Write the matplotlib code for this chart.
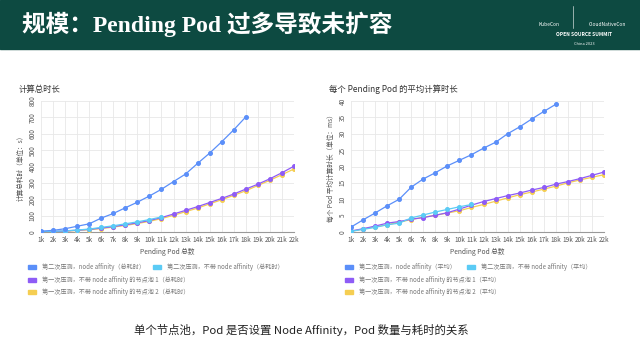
import matplotlib
matplotlib.use("Agg")
import matplotlib.pyplot as plt
from matplotlib.patches import Rectangle

plt.rcParams["font.family"] = ["Noto Sans CJK SC", "DejaVu Sans"]

TITLE = "规模：Pending Pod 过多导致未扩容"
CAPTION = "单个节点池，Pod 是否设置 Node Affinity，Pod 数量与耗时的关系"

categories = [f"{i}k" for i in range(1, 23)]

# total compute time (s)
total_affinity = [5, 10, 20, 35, 50, 85, 113, 148, 182, 220, 261, 308, 354, 419, 482, 551, 624, 703]
total_no_affinity = [2, 4, 7, 12, 18, 28, 38, 50, 62, 76, 92]
total_pool1 = [1, 3, 6, 11, 16, 24, 33, 44, 56, 70, 88, 110, 132, 155, 180, 205, 232, 262, 292, 325, 362, 402]
total_pool2 = [0, 2, 5, 9, 14, 21, 30, 40, 52, 65, 82, 102, 124, 146, 172, 197, 224, 252, 284, 316, 350, 385]

# average compute time per pod (ms)
avg_affinity = [1.5, 3.7, 5.8, 8.0, 10.0, 13.7, 16.2, 18.1, 20.2, 21.9, 23.6, 25.6, 27.4, 30.0, 32.1, 34.5, 36.8, 39.0]
avg_no_affinity = [0.2, 0.8, 1.4, 2.2, 2.7, 4.3, 5.2, 6.1, 6.9, 7.7, 8.4]
avg_pool1 = [0.3, 1.0, 1.8, 2.7, 3.2, 3.9, 4.4, 5.1, 5.9, 7.0, 8.2, 9.3, 10.2, 11.1, 11.9, 12.8, 13.6, 14.6, 15.4, 16.3, 17.3, 18.3]
avg_pool2 = [0.2, 0.9, 1.6, 2.2, 3.0, 3.8, 4.5, 5.1, 5.8, 6.5, 7.5, 8.4, 9.4, 10.4, 11.4, 12.2, 13.1, 14.0, 15.0, 15.9, 16.7, 17.5]

colors = ["#5b8ff9", "#5bcbf5", "#8e5cf6", "#f5ce52"]
W, H = 640, 360


def px_axes(fig, x0, y0, x1, y1):
    return fig.add_axes([x0 / W, 1 - y1 / H, (x1 - x0) / W, (y1 - y0) / H])


def draw_chart(fig, box, series, labels, ylim, ystep, title, ylabel, legend_x):
    x0, y0, x1, y1 = box
    ax = px_axes(fig, x0, y0, x1, y1)
    # draw lower series first so the affinity line stays on top
    for vals, color in reversed(list(zip(series, colors))):
        ax.plot(range(len(vals)), vals, color=color, lw=0.9, marker="o", ms=2.6, zorder=3)
    ax.set_xlim(0, len(categories) - 1)
    ax.set_ylim(*ylim)
    ax.set_xticks(range(len(categories)))
    ax.set_xticklabels(categories)
    ax.set_yticks(range(ylim[0], ylim[1] + 1, ystep))
    ax.tick_params(length=0, labelsize=4.6, colors="#555555", pad=3)
    for lab in ax.get_yticklabels():
        lab.set_rotation(90)
        lab.set_va("center")
    ax.grid(color="#e8e8e8", lw=0.6)
    for side in ("top", "right", "left"):
        ax.spines[side].set_visible(False)
    ax.spines["bottom"].set_color("#999999")
    ax.spines["bottom"].set_linewidth(0.8)
    ax.set_xlabel("Pending Pod 总数", fontsize=4.8, color="#555555", labelpad=3)
    ax.set_ylabel(ylabel, fontsize=4.8, color="#555555", labelpad=3)
    fig.text((x0 - 22) / W, 1 - 89 / H, title, fontsize=6, color="#333333",
             fontweight="medium", va="center")

    # legend, two columns on the first row
    rows = [(0, 0), (1, 0), (0, 1), (0, 2)]
    for (col, row), lab, color in zip(rows, labels, colors):
        px = legend_x[col]
        py = 267 + row * 12.5
        fig.patches.append(Rectangle((px / W, 1 - (py + 2) / H), 8 / W, 4 / H,
                                     transform=fig.transFigure, color=color))
        fig.text((px + 14) / W, 1 - py / H, lab, fontsize=4.4, color="#777777", va="center")
    return ax


fig = plt.figure(figsize=(6.4, 3.6), dpi=100)
fig.patch.set_facecolor("white")

# header band
fig.patches.append(Rectangle((0, 1 - 49 / H), 1, 49 / H, transform=fig.transFigure,
                             color="#0d4a41", zorder=0))
fig.text(22 / W, 1 - 24 / H, TITLE, fontsize=17, color="white", va="center",
         fontweight="bold", family=["Liberation Serif", "Noto Sans CJK SC"])
fig.text(549 / W, 1 - 25 / H, "KubeCon", fontsize=3.5, color="white", ha="center", va="center")
fig.text(607 / W, 1 - 25 / H, "CloudNativeCon", fontsize=3.5, color="white", ha="center", va="center")
fig.text(584 / W, 1 - 35 / H, "OPEN SOURCE SUMMIT", fontsize=3.5, color="white", ha="center",
         va="center", fontweight="bold")
fig.text(584 / W, 1 - 44 / H, "China 2023", fontsize=2.8, color="white", ha="center", va="center")
fig.lines.append(plt.Line2D([573 / W, 573 / W], [1 - 6 / H, 1 - 28 / H],
                            transform=fig.transFigure, color="white", lw=0.4))

left_labels = [
    "第二次压测，node affinity（总耗时）",
    "第二次压测，不带 node affinity（总耗时）",
    "第一次压测，不带 node affinity 的节点池 1（总耗时）",
    "第一次压测，不带 node affinity 的节点池 2（总耗时）",
]
right_labels = [
    "第二次压测，node affinity（平均）",
    "第二次压测，不带 node affinity（平均）",
    "第一次压测，不带 node affinity 的节点池 1（平均）",
    "第一次压测，不带 node affinity 的节点池 2（平均）",
]

draw_chart(fig, (41, 101, 294, 232),
           [total_affinity, total_no_affinity, total_pool1, total_pool2],
           left_labels, (0, 800), 100, "计算总时长", "计算总耗时（单位：s）", (28, 153))
draw_chart(fig, (351, 101, 604, 232),
           [avg_affinity, avg_no_affinity, avg_pool1, avg_pool2],
           right_labels, (0, 40), 5, "每个 Pending Pod 的平均计算时长",
           "每个 Pod 平均计算时长（单位：ms）", (345, 467))

fig.text(301 / W, 1 - 330 / H, CAPTION, fontsize=8.2, color="#222222", ha="center", va="center")

fig.savefig("out.png", dpi=100)
